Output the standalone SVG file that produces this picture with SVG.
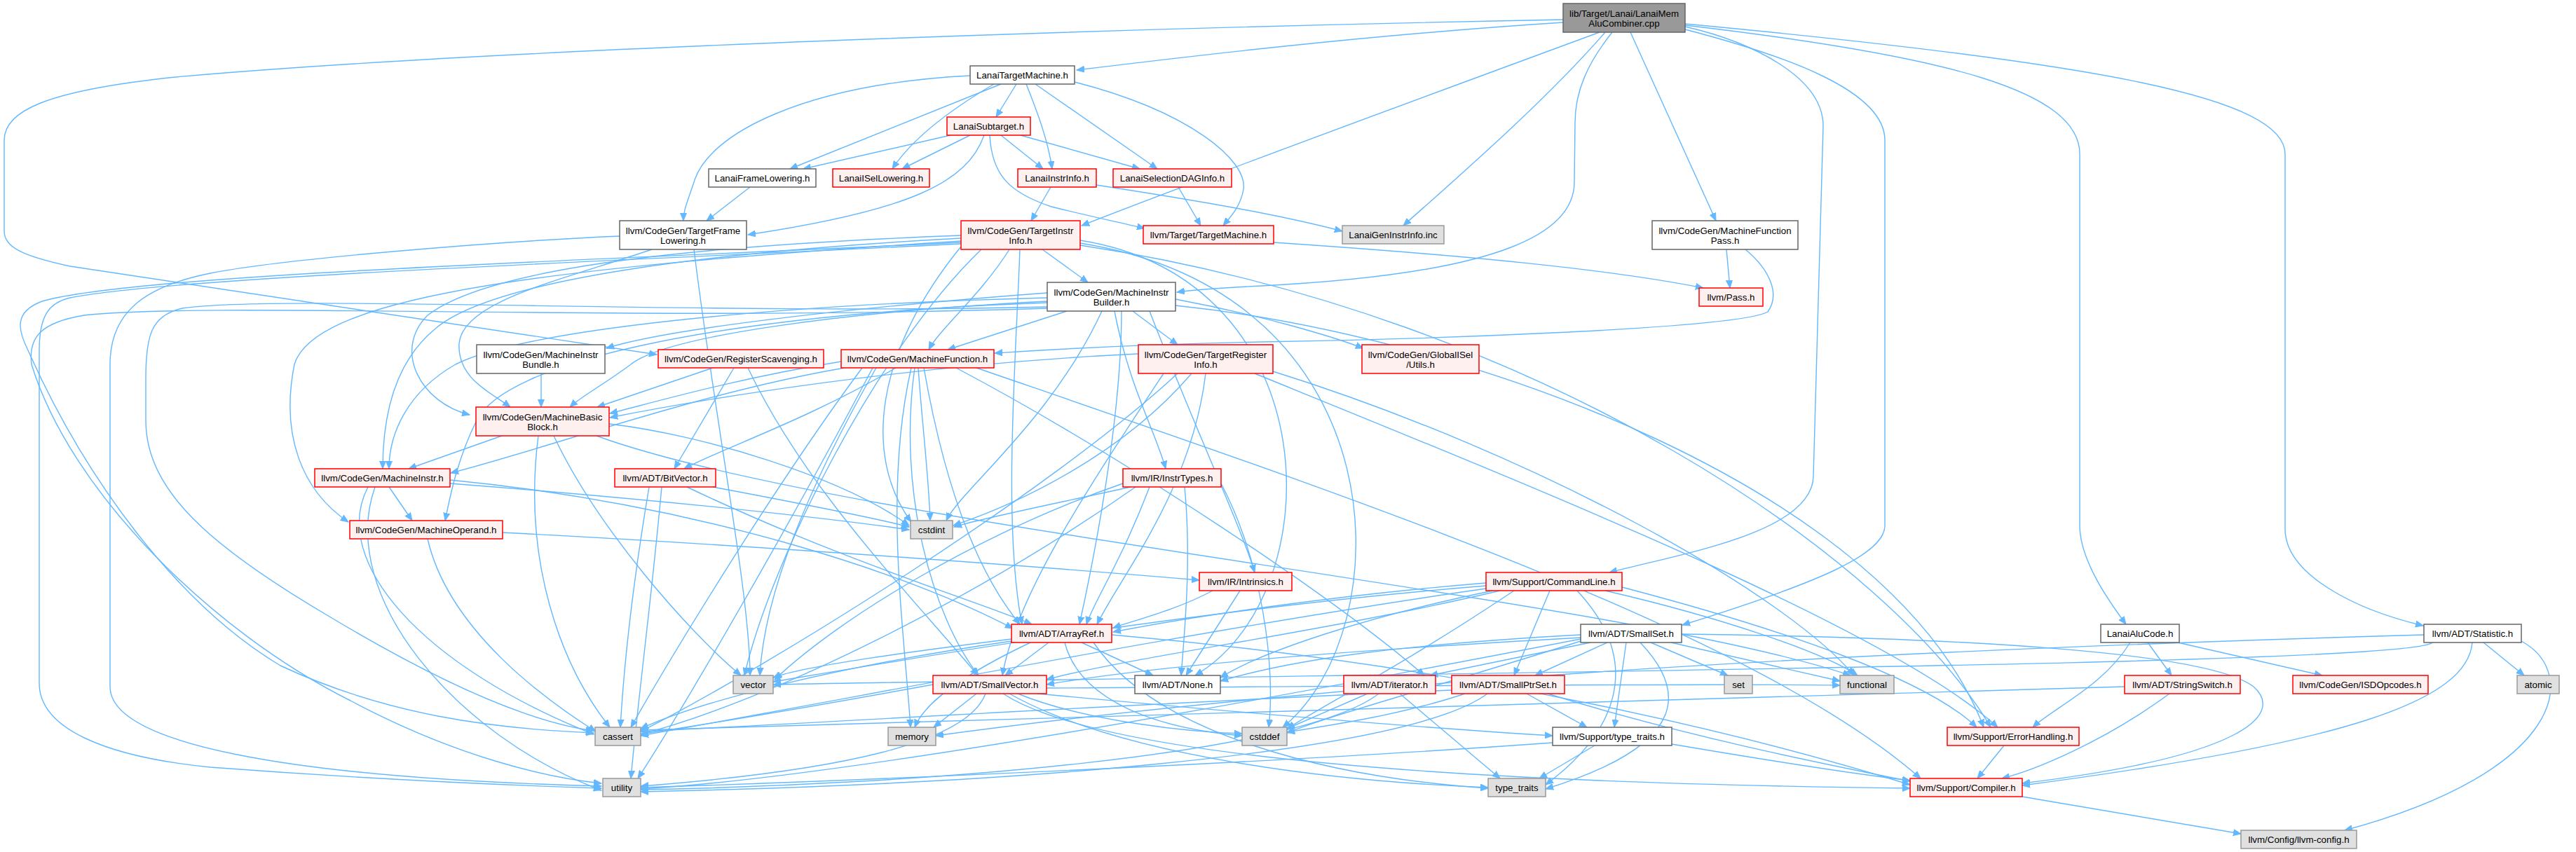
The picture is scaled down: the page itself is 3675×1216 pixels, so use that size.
<svg xmlns="http://www.w3.org/2000/svg" width="3675" height="1216" viewBox="0 0 3675 1216">
<defs>
<style>
.e{fill:none;stroke:#63b8ff;stroke-width:1.4;marker-end:url(#a)}
rect{stroke-width:1.5}
.rt{fill:#999999;stroke:#666666}
.w{fill:#ffffff;stroke:#666666}
.r{fill:#fff0f0;stroke:#ff0000}
.g{fill:#e0e0e0;stroke:#999999}
text{font-family:"Liberation Sans",Arial,Helvetica,sans-serif;font-size:13.3px;text-anchor:middle;fill:#000000}
</style>
<marker id="a" markerUnits="userSpaceOnUse" markerWidth="12" markerHeight="10" refX="11" refY="5" orient="auto"><path d="M0,0.5 L11,5 L0,9.5 z" fill="#63b8ff" stroke="#63b8ff" stroke-width="1"/></marker>
</defs>
<rect x="0" y="0" width="3675" height="1216" fill="#ffffff"/>
<g id="edges">
<!-- root -->
<path class="e" d="M2230,32 C1950,50 1700,80 1536,100"/>
<path class="e" d="M2230,28 C1600,40 700,70 250,110 C60,130 6,160 6,200 L6,330 C6,352 30,365 100,380 L937,506"/>
<path class="e" d="M2282,46 C2000,150 1700,260 1543,322"/>
<path class="e" d="M2290,46 C2200,150 2060,270 2002,322"/>
<path class="e" d="M2300,46 C2265,90 2247,130 2247,175 L2246,260 C2246,330 2150,390 1800,408 C1740,411 1700,414 1679,417"/>
<path class="e" d="M2326,46 L2448,315"/>
<path class="e" d="M2404,38 C2500,60 2601,110 2601,180 L2587,680 C2585,760 2400,790 2296,817"/>
<path class="e" d="M2404,42 C2550,80 2689,130 2689,200 L2689,750 C2689,790 2600,830 2400,892"/>
<path class="e" d="M2404,36 C2780,80 2967,130 2967,220 L2967,750 C2967,800 3010,860 3033,891"/>
<path class="e" d="M2404,34 C3000,90 3260,140 3260,220 L3260,755 C3260,820 3360,870 3457,893"/>
<!-- LanaiTargetMachine -->
<path class="e" d="M1384,108 C1150,120 1010,190 990,260 C980,290 975,300 975,315"/>
<path class="e" d="M1428,120 L1127,241"/>
<path class="e" d="M1418,120 C1350,160 1300,200 1273,241"/>
<path class="e" d="M1450,120 L1421,167"/>
<path class="e" d="M1464,120 C1480,160 1495,200 1501,241"/>
<path class="e" d="M1477,120 L1651,241"/>
<path class="e" d="M1533,117 C1700,160 1780,230 1774,270 C1770,295 1755,310 1745,322"/>
<!-- LanaiSubtarget -->
<path class="e" d="M1356,193 L1146,241"/>
<path class="e" d="M1384,193 L1287,241"/>
<path class="e" d="M1404,193 C1380,260 1300,300 1067,335"/>
<path class="e" d="M1428,193 L1488,241"/>
<path class="e" d="M1456,193 L1626,241"/>
<path class="e" d="M1412,193 C1415,250 1440,275 1500,295 C1560,310 1600,318 1633,326"/>
<!-- row 3 -->
<path class="e" d="M1070,267 L1008,315"/>
<path class="e" d="M1499,267 L1471,315"/>
<path class="e" d="M1564,264 C1700,285 1820,305 1915,330"/>
<path class="e" d="M1681,267 L1713,322"/>
<path class="e" d="M1817,346 C2100,365 2300,385 2430,411"/>
<path class="e" d="M2463,356 L2468,411"/>
<path class="e" d="M2490,356 C2525,385 2540,420 2522,445 C2480,470 2000,485 1800,488 C1600,492 1480,500 1419,504"/>
<!-- TargetFrameLowering -->
<path class="e" d="M930,356 C800,400 660,430 655,490 C652,540 700,560 728,581"/>
<path class="e" d="M990,356 C1020,600 1070,850 1070,964"/>
<path class="e" d="M884,337 C700,345 400,370 300,390 C200,410 157,450 157,520 L157,980 C157,1060 400,1110 858,1122"/>
<!-- TargetInstrInfo -->
<path class="e" d="M1440,356 C1400,420 1340,470 1325,499"/>
<path class="e" d="M1487,356 L1552,403"/>
<path class="e" d="M1455,356 C1450,500 1430,750 1458,891"/>
<path class="e" d="M1371,352 C1250,500 1230,650 1300,745"/>
<path class="e" d="M1371,336 C1000,350 700,380 610,450 C560,500 600,575 670,592"/>
<path class="e" d="M1371,340 C1000,360 700,400 620,470 C560,520 546,600 546,669"/>
<path class="e" d="M1371,344 C800,380 450,420 420,520 C400,620 430,700 497,745"/>
<path class="e" d="M1371,346 C900,370 200,390 60,430 C20,445 25,470 40,500 C120,680 250,860 400,950 C550,1020 700,1040 847,1046"/>
<path class="e" d="M1371,348 C900,372 250,395 100,425 C70,432 56,450 56,500 L56,975 C56,1040 150,1080 300,1095 C500,1110 700,1120 858,1125"/>
<path class="e" d="M1400,356 C1250,500 1100,800 1062,964"/>
<path class="e" d="M1541,343 C1900,400 1900,850 1705,964"/>
<path class="e" d="M1541,347 C2000,420 2000,900 1830,1038"/>
<path class="e" d="M1541,350 C2200,450 2700,800 2840,1038"/>
<!-- MachineInstrBuilder -->
<path class="e" d="M1677,427 C1800,450 1900,480 1945,497"/>
<path class="e" d="M1522,444 L1352,499"/>
<path class="e" d="M1616,444 L1680,492"/>
<path class="e" d="M1590,444 C1610,550 1650,620 1663,669"/>
<path class="e" d="M1572,444 C1500,600 1370,700 1350,743"/>
<path class="e" d="M1494,418 C1200,440 950,470 865,497"/>
<path class="e" d="M1494,430 C1200,445 950,480 900,520 C860,550 830,565 813,581"/>
<path class="e" d="M1494,425 C1100,435 750,470 650,520 C580,560 555,620 555,669"/>
<path class="e" d="M1494,432 C1000,450 720,520 680,600 C650,660 640,720 635,743"/>
<path class="e" d="M1600,444 C1600,600 1560,800 1540,891"/>
<path class="e" d="M1640,444 C1700,600 1770,750 1790,817"/>
<path class="e" d="M1677,436 C2100,480 2700,700 2830,1038"/>
<path class="e" d="M1494,438 C1000,450 400,420 260,440 C215,450 208,480 208,540 L208,600 C208,700 300,780 470,880 C620,970 750,1030 847,1043"/>
<path class="e" d="M1494,440 C900,460 300,430 120,450 C60,460 40,480 45,520 C100,700 300,900 500,1000 C650,1080 780,1110 858,1118"/>
<!-- RegisterScavenging -->
<path class="e" d="M1017,525 L852,581"/>
<path class="e" d="M1047,525 L962,669"/>
<path class="e" d="M1067,525 C1150,700 1300,850 1395,964"/>
<!-- MachineFunction -->
<path class="e" d="M1278,525 C1150,600 1030,640 976,669"/>
<path class="e" d="M1200,516 C1050,540 930,575 870,590"/>
<path class="e" d="M1205,525 C1000,560 780,640 643,675"/>
<path class="e" d="M1310,525 C1315,600 1325,680 1327,743"/>
<path class="e" d="M1318,525 C1340,650 1380,800 1455,891"/>
<path class="e" d="M1305,525 C1280,700 1330,880 1396,964"/>
<path class="e" d="M1364,525 C1600,650 1900,850 2032,964"/>
<path class="e" d="M1393,525 C1900,700 2500,900 2740,1111"/>
<path class="e" d="M1230,525 C1100,700 950,950 900,1038"/>
<path class="e" d="M1300,525 C1260,700 1290,900 1299,1038"/>
<path class="e" d="M1245,525 C1100,800 950,1050 910,1111"/>
<path class="e" d="M1250,525 C1150,700 1090,850 1084,964"/>
<!-- TargetRegisterInfo -->
<path class="e" d="M1624,505 C1300,520 1000,570 870,596"/>
<path class="e" d="M1700,533 C1600,650 1450,720 1360,750"/>
<path class="e" d="M1680,533 C1500,700 1100,950 912,1045"/>
<path class="e" d="M1720,533 C1700,700 1600,820 1565,891"/>
<path class="e" d="M1660,533 C1550,700 1450,850 1430,964"/>
<path class="e" d="M1790,533 C2200,700 2700,900 2850,1038"/>
<path class="e" d="M1816,530 C2200,650 2550,850 2645,964"/>
<!-- MachineInstrBundle -->
<path class="e" d="M772,533 L772,581"/>
<!-- MachineBasicBlock -->
<path class="e" d="M716,622 L583,669"/>
<path class="e" d="M768,622 C745,800 800,950 870,1038"/>
<path class="e" d="M790,622 C850,750 980,900 1057,964"/>
<path class="e" d="M869,605 C1000,620 1200,680 1297,750"/>
<path class="e" d="M851,622 C1200,750 2300,850 2640,964"/>
<!-- MachineInstr -->
<path class="e" d="M555,695 L588,743"/>
<path class="e" d="M525,695 C470,800 600,950 847,1048"/>
<path class="e" d="M535,695 C480,850 650,1050 858,1128"/>
<path class="e" d="M642,690 C900,710 1150,735 1297,756"/>
<path class="e" d="M642,685 C1000,720 1300,820 1445,897"/>
<!-- BitVector -->
<path class="e" d="M980,695 C1200,800 1400,860 1472,891"/>
<path class="e" d="M1017,695 C1150,720 1250,740 1297,752"/>
<path class="e" d="M926,695 C900,850 890,950 885,1038"/>
<path class="e" d="M944,695 C930,850 910,1000 900,1111"/>
<!-- InstrTypes -->
<path class="e" d="M1613,695 C1500,720 1400,740 1361,752"/>
<path class="e" d="M1640,695 C1600,800 1560,860 1550,891"/>
<path class="e" d="M1690,695 C1700,800 1690,900 1685,964"/>
<path class="e" d="M1620,695 C1400,850 1100,1000 914,1048"/>
<path class="e" d="M1742,690 C1800,800 1820,950 1810,1038"/>
<path class="e" d="M1602,690 C1400,760 1200,880 1105,970"/>
<!-- MachineOperand -->
<path class="e" d="M717,760 C1100,780 1500,810 1711,828"/>
<path class="e" d="M610,769 C640,900 780,1000 850,1044"/>
<!-- Intrinsics -->
<path class="e" d="M1730,843 C1680,870 1620,885 1588,896"/>
<path class="e" d="M1769,843 L1692,964"/>
<!-- CommandLine -->
<path class="e" d="M2120,832 C1900,850 1700,880 1588,902"/>
<path class="e" d="M2130,843 C1950,880 1800,930 1741,967"/>
<path class="e" d="M2211,843 L2160,964"/>
<path class="e" d="M2140,843 C1900,900 1600,940 1493,970"/>
<path class="e" d="M2314,838 C2550,900 2750,970 2820,1038"/>
<path class="e" d="M2120,840 C1700,900 1200,1000 914,1050"/>
<path class="e" d="M2160,843 C2000,950 1900,1000 1836,1040"/>
<path class="e" d="M2290,843 C2450,880 2600,930 2650,964"/>
<path class="e" d="M2250,843 C2350,950 2300,1050 2205,1120"/>
<path class="e" d="M2120,836 C1700,870 1300,940 1103,973"/>
<!-- SmallSet -->
<path class="e" d="M2293,917 L2190,964"/>
<path class="e" d="M2269,917 L2040,964"/>
<path class="e" d="M2255,906 C2000,920 1850,940 1741,972"/>
<path class="e" d="M2255,910 C1900,930 1650,950 1493,977"/>
<path class="e" d="M2399,905 C2800,910 3150,930 3215,980 C3260,1020 3200,1080 2885,1118"/>
<path class="e" d="M2320,917 L2303,1038"/>
<path class="e" d="M2255,915 C2050,980 1900,1020 1836,1046"/>
<path class="e" d="M2384,917 L2625,972"/>
<path class="e" d="M2355,917 L2465,964"/>
<path class="e" d="M2340,917 C2400,980 2420,1060 2205,1126"/>
<path class="e" d="M2255,912 C1800,1000 1200,1110 914,1126"/>
<!-- LanaiAluCode -->
<path class="e" d="M3064,917 L3098,964"/>
<path class="e" d="M3107,917 L3313,964"/>
<path class="e" d="M3039,917 C3000,980 2930,1010 2900,1038"/>
<!-- Statistic -->
<path class="e" d="M3543,917 L3601,964"/>
<path class="e" d="M3597,915 C3680,960 3660,1100 3345,1185"/>
<path class="e" d="M3527,917 C3520,1000 3350,1060 2885,1121"/>
<path class="e" d="M3458,906 C2800,925 2000,960 1335,1050"/>
<path class="e" d="M3470,917 C3440,950 2000,960 1103,977"/>
<!-- ArrayRef -->
<path class="e" d="M1496,917 L1434,964"/>
<path class="e" d="M1543,917 L1645,964"/>
<path class="e" d="M1443,912 C1300,930 1150,950 1103,967"/>
<path class="e" d="M1443,915 C1200,950 1000,1000 914,1040"/>
<path class="e" d="M1470,917 C1380,960 1320,1000 1305,1038"/>
<path class="e" d="M1519,917 C1540,1000 1650,1040 1772,1050"/>
<path class="e" d="M1586,906 C2100,950 2500,1050 2725,1120"/>
<path class="e" d="M1560,917 C1650,1050 1900,1110 2123,1125"/>
<!-- SmallVector -->
<path class="e" d="M1331,977 C1150,1010 1000,1035 914,1048"/>
<path class="e" d="M1393,990 L1332,1038"/>
<path class="e" d="M1406,990 C1380,1060 1200,1100 914,1122"/>
<path class="e" d="M1452,990 C1550,1030 1700,1045 1772,1047"/>
<path class="e" d="M1493,982 C1900,980 2400,975 2625,978"/>
<path class="e" d="M1480,990 C1800,1020 2050,1040 2215,1050"/>
<path class="e" d="M1440,990 C1600,1080 1900,1115 2123,1124"/>
<path class="e" d="M1431,990 C1600,1100 2300,1120 2725,1125"/>
<!-- iterator -->
<path class="e" d="M1951,990 L1836,1040"/>
<path class="e" d="M1997,990 L2140,1111"/>
<path class="e" d="M1967,990 C1850,1080 1300,1120 914,1127"/>
<!-- SmallPtrSet -->
<path class="e" d="M2178,990 L2264,1038"/>
<path class="e" d="M2208,990 C2400,1050 2600,1090 2725,1115"/>
<path class="e" d="M2090,990 C2000,1020 1900,1035 1836,1045"/>
<path class="e" d="M2071,985 C1700,1000 1200,1030 914,1044"/>
<path class="e" d="M2122,990 C2000,1080 1400,1120 914,1130"/>
<!-- type_traits.h -->
<path class="e" d="M2275,1064 L2196,1111"/>
<path class="e" d="M2385,1062 C2550,1090 2650,1105 2725,1114"/>
<path class="e" d="M2215,1060 C1800,1090 1200,1115 914,1124"/>
<!-- misc -->
<path class="e" d="M2859,1064 L2821,1111"/>
<path class="e" d="M3095,990 C3000,1060 2900,1100 2856,1111"/>
<path class="e" d="M3031,980 C2200,1000 1400,1030 914,1042"/>
<path class="e" d="M2885,1137 L3197,1190"/>
</g>
<g id="n_root"><rect class="rt" x="2230" y="5" width="174" height="41"/><text x="2317" y="23.5">lib/Target/Lanai/LanaiMem</text><text x="2317" y="38">AluCombiner.cpp</text></g>
<g id="n_LanaiTargetMachine"><rect class="w" x="1384" y="94" width="149" height="26"/><text x="1458.5" y="111.5">LanaiTargetMachine.h</text></g>
<g id="n_LanaiSubtarget"><rect class="r" x="1351" y="167" width="119" height="26"/><text x="1410.5" y="184.5">LanaiSubtarget.h</text></g>
<g id="n_LanaiFrameLowering"><rect class="w" x="1011" y="241" width="153" height="26"/><text x="1087.5" y="258.5">LanaiFrameLowering.h</text></g>
<g id="n_LanaiISelLowering"><rect class="r" x="1188" y="241" width="138" height="26"/><text x="1257" y="258.5">LanaiISelLowering.h</text></g>
<g id="n_LanaiInstrInfo"><rect class="r" x="1452" y="241" width="112" height="26"/><text x="1508" y="258.5">LanaiInstrInfo.h</text></g>
<g id="n_LanaiSelectionDAGInfo"><rect class="r" x="1588" y="241" width="169" height="26"/><text x="1672.5" y="258.5">LanaiSelectionDAGInfo.h</text></g>
<g id="n_TargetFrameLowering"><rect class="w" x="884" y="315" width="181" height="41"/><text x="974.5" y="333.5">llvm/CodeGen/TargetFrame</text><text x="974.5" y="348">Lowering.h</text></g>
<g id="n_TargetInstrInfo"><rect class="r" x="1371" y="315" width="170" height="41"/><text x="1456" y="333.5">llvm/CodeGen/TargetInstr</text><text x="1456" y="348">Info.h</text></g>
<g id="n_TargetMachine"><rect class="r" x="1631" y="322" width="186" height="26"/><text x="1724" y="339.5">llvm/Target/TargetMachine.h</text></g>
<g id="n_LanaiGenInstrInfo"><rect class="g" x="1915" y="322" width="145" height="26"/><text x="1987.5" y="339.5">LanaiGenInstrInfo.inc</text></g>
<g id="n_MachineFunctionPass"><rect class="w" x="2357" y="315" width="208" height="41"/><text x="2461" y="333.5">llvm/CodeGen/MachineFunction</text><text x="2461" y="348">Pass.h</text></g>
<g id="n_Pass"><rect class="r" x="2424" y="411" width="91" height="26"/><text x="2469.5" y="428.5">llvm/Pass.h</text></g>
<g id="n_MachineInstrBuilder"><rect class="w" x="1494" y="403" width="183" height="41"/><text x="1585.5" y="421.5">llvm/CodeGen/MachineInstr</text><text x="1585.5" y="436">Builder.h</text></g>
<g id="n_RegisterScavenging"><rect class="r" x="939" y="499" width="236" height="26"/><text x="1057" y="516.5">llvm/CodeGen/RegisterScavenging.h</text></g>
<g id="n_MachineFunction"><rect class="r" x="1200" y="499" width="218" height="26"/><text x="1309" y="516.5">llvm/CodeGen/MachineFunction.h</text></g>
<g id="n_TargetRegisterInfo"><rect class="r" x="1624" y="492" width="192" height="41"/><text x="1720" y="510.5">llvm/CodeGen/TargetRegister</text><text x="1720" y="525">Info.h</text></g>
<g id="n_MachineInstrBundle"><rect class="w" x="680" y="492" width="183" height="41"/><text x="771.5" y="510.5">llvm/CodeGen/MachineInstr</text><text x="771.5" y="525">Bundle.h</text></g>
<g id="n_GlobalISelUtils"><rect class="r" x="1943" y="492" width="167" height="41"/><text x="2026.5" y="510.5">llvm/CodeGen/GlobalISel</text><text x="2026.5" y="525">/Utils.h</text></g>
<g id="n_MachineBasicBlock"><rect class="r" x="679" y="581" width="190" height="41"/><text x="774" y="599.5">llvm/CodeGen/MachineBasic</text><text x="774" y="614">Block.h</text></g>
<g id="n_MachineInstr"><rect class="r" x="449" y="669" width="193" height="26"/><text x="545.5" y="686.5">llvm/CodeGen/MachineInstr.h</text></g>
<g id="n_BitVector"><rect class="r" x="877" y="669" width="144" height="26"/><text x="949" y="686.5">llvm/ADT/BitVector.h</text></g>
<g id="n_InstrTypes"><rect class="r" x="1602" y="669" width="140" height="26"/><text x="1672" y="686.5">llvm/IR/InstrTypes.h</text></g>
<g id="n_MachineOperand"><rect class="r" x="499" y="743" width="218" height="26"/><text x="608" y="760.5">llvm/CodeGen/MachineOperand.h</text></g>
<g id="n_cstdint"><rect class="g" x="1299" y="743" width="60" height="26"/><text x="1329" y="760.5">cstdint</text></g>
<g id="n_Intrinsics"><rect class="r" x="1711" y="817" width="132" height="26"/><text x="1777" y="834.5">llvm/IR/Intrinsics.h</text></g>
<g id="n_CommandLine"><rect class="r" x="2120" y="817" width="194" height="26"/><text x="2217" y="834.5">llvm/Support/CommandLine.h</text></g>
<g id="n_ArrayRef"><rect class="r" x="1443" y="891" width="143" height="26"/><text x="1514.5" y="908.5">llvm/ADT/ArrayRef.h</text></g>
<g id="n_SmallSet"><rect class="w" x="2255" y="891" width="144" height="26"/><text x="2327" y="908.5">llvm/ADT/SmallSet.h</text></g>
<g id="n_LanaiAluCode"><rect class="w" x="2997" y="891" width="112" height="26"/><text x="3053" y="908.5">LanaiAluCode.h</text></g>
<g id="n_Statistic"><rect class="w" x="3458" y="891" width="139" height="26"/><text x="3527.5" y="908.5">llvm/ADT/Statistic.h</text></g>
<g id="n_vector"><rect class="g" x="1046" y="964" width="57" height="26"/><text x="1074.5" y="981.5">vector</text></g>
<g id="n_SmallVector"><rect class="r" x="1331" y="964" width="162" height="26"/><text x="1412" y="981.5">llvm/ADT/SmallVector.h</text></g>
<g id="n_None"><rect class="w" x="1619" y="964" width="122" height="26"/><text x="1680" y="981.5">llvm/ADT/None.h</text></g>
<g id="n_iterator"><rect class="r" x="1917" y="964" width="131" height="26"/><text x="1982.5" y="981.5">llvm/ADT/iterator.h</text></g>
<g id="n_SmallPtrSet"><rect class="r" x="2071" y="964" width="161" height="26"/><text x="2151.5" y="981.5">llvm/ADT/SmallPtrSet.h</text></g>
<g id="n_set"><rect class="g" x="2460" y="964" width="40" height="26"/><text x="2480" y="981.5">set</text></g>
<g id="n_functional"><rect class="g" x="2625" y="964" width="77" height="26"/><text x="2663.5" y="981.5">functional</text></g>
<g id="n_StringSwitch"><rect class="r" x="3031" y="964" width="165" height="26"/><text x="3113.5" y="981.5">llvm/ADT/StringSwitch.h</text></g>
<g id="n_ISDOpcodes"><rect class="r" x="3271" y="964" width="193" height="26"/><text x="3367.5" y="981.5">llvm/CodeGen/ISDOpcodes.h</text></g>
<g id="n_atomic"><rect class="g" x="3591" y="964" width="60" height="26"/><text x="3621" y="981.5">atomic</text></g>
<g id="n_cassert"><rect class="g" x="849" y="1038" width="65" height="26"/><text x="881.5" y="1055.5">cassert</text></g>
<g id="n_memory"><rect class="g" x="1267" y="1038" width="68" height="26"/><text x="1301" y="1055.5">memory</text></g>
<g id="n_cstddef"><rect class="g" x="1772" y="1038" width="64" height="26"/><text x="1804" y="1055.5">cstddef</text></g>
<g id="n_SupportTypeTraits"><rect class="w" x="2215" y="1038" width="170" height="26"/><text x="2300" y="1055.5">llvm/Support/type_traits.h</text></g>
<g id="n_ErrorHandling"><rect class="r" x="2778" y="1038" width="188" height="26"/><text x="2872" y="1055.5">llvm/Support/ErrorHandling.h</text></g>
<g id="n_utility"><rect class="g" x="860" y="1111" width="54" height="26"/><text x="887" y="1128.5">utility</text></g>
<g id="n_type_traits"><rect class="g" x="2123" y="1111" width="82" height="26"/><text x="2164" y="1128.5">type_traits</text></g>
<g id="n_Compiler"><rect class="r" x="2725" y="1111" width="160" height="26"/><text x="2805" y="1128.5">llvm/Support/Compiler.h</text></g>
<g id="n_llvmconfig"><rect class="g" x="3197" y="1185" width="165" height="26"/><text x="3279.5" y="1202.5">llvm/Config/llvm-config.h</text></g>
</svg>
